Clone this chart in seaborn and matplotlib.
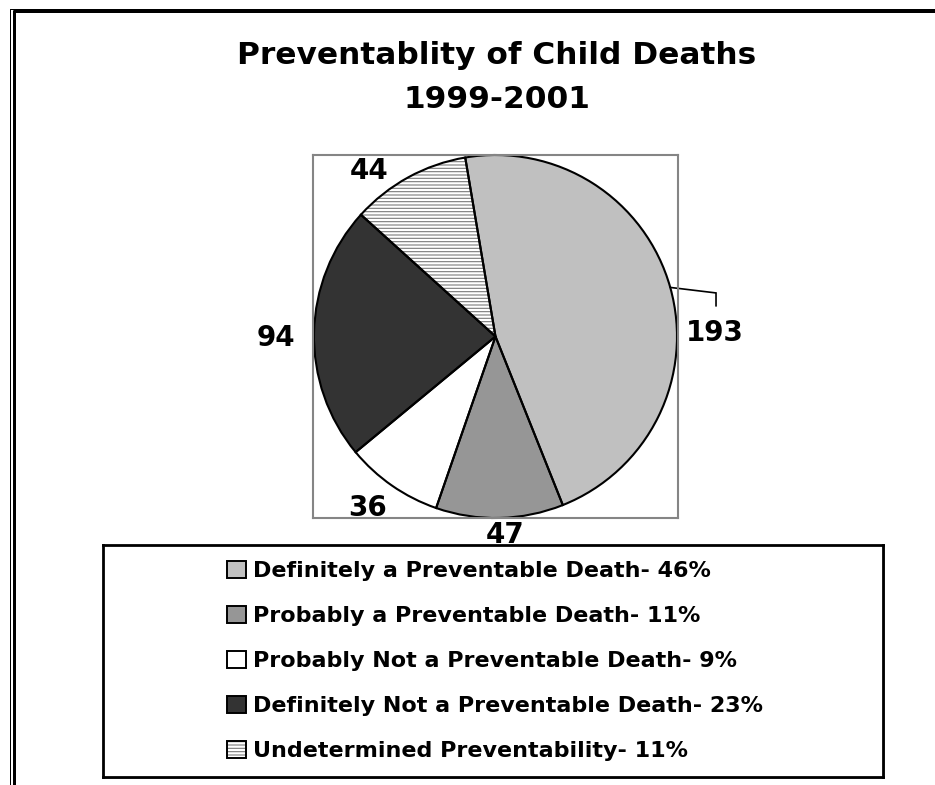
import matplotlib
matplotlib.use("Agg")
import numpy as np
import matplotlib.pyplot as plt
import seaborn as sns
from matplotlib.patches import Patch, Rectangle
from matplotlib.lines import Line2D
from matplotlib.legend_handler import HandlerTuple

# ---- data ----
categories = [
    "Definitely a Preventable Death",
    "Probably a Preventable Death",
    "Probably Not a Preventable Death",
    "Definitely Not a Preventable Death",
    "Undetermined Preventability",
]
counts = [193, 47, 36, 94, 44]
percent_labels = ["46%", "11%", "9%", "23%", "11%"]
title_lines = ["Preventablity of Child Deaths", "1999-2001"]

# ---- style ----
colors = ["#C0C0C0", "#969696", "#FFFFFF", "#333333", "#FFFFFF"]
hatches = [None, None, None, None, "-----"]

sns.set_theme(style="white")
plt.rcParams["font.family"] = ["DejaVu Sans"]
plt.rcParams["font.weight"] = "bold"
plt.rcParams["text.color"] = "black"
plt.rcParams["hatch.linewidth"] = 0.8

W, H = 935, 785
fig = plt.figure(figsize=(W / 100, H / 100), dpi=100)
fig.patch.set_facecolor("white")


def fx(x):
    return x / W


def fy(y):
    return 1 - y / H


# double page frame (top and left)
px = 0.72
fig.add_artist(Line2D([fx(10), 1], [fy(8.5), fy(8.5)], color="black", lw=1 * px))
fig.add_artist(Line2D([fx(13.5), 1], [fy(11), fy(11)], color="black", lw=3 * px))
fig.add_artist(Line2D([fx(10), fx(10)], [fy(8.5), 0], color="black", lw=1 * px))
fig.add_artist(Line2D([fx(13.5), fx(13.5)], [fy(11), 0], color="black", lw=3 * px))

# two-line title
fig.text(fx(496.5), fy(63.5), title_lines[0], ha="center", va="baseline",
         fontsize=22.5, fontweight="bold", color="black")
fig.text(fx(496.5), fy(107.5), title_lines[1], ha="center", va="baseline",
         fontsize=22.5, fontweight="bold", color="black")

# ---- pie ----
left, right, top, bottom = 313, 678, 155, 518
ax = fig.add_axes([fx(left), fy(bottom), fx(right - left), (bottom - top) / H])
start = 99.6

wedges, _ = ax.pie(counts, colors=colors, startangle=start, counterclock=False,
                   radius=1, frame=True, wedgeprops=dict(linewidth=0))
for w, h in zip(wedges, hatches):
    if h:
        w.set_hatch(h)
        w.set_edgecolor("#7a7a7a")
        w.set_linewidth(0)

outlines, _ = ax.pie(counts, startangle=start, counterclock=False, radius=1,
                     frame=True,
                     wedgeprops=dict(fill=False, edgecolor="black", linewidth=1.5))

half_w = (right - left) / (bottom - top)
ax.set_aspect("auto")
ax.set_xlim(-half_w, half_w)
ax.set_ylim(-1, 1)
ax.set_xticks([])
ax.set_yticks([])
for s in ax.spines.values():
    s.set_visible(True)
    s.set_color("#858585")
    s.set_linewidth(1.5)

# value labels: (radius, angle shift in degrees) from each slice's mid-angle
label_place = [(1.207, -14.27), (1.084, 1.41), (1.170, -2.3), (1.209, 1.13), (1.155, 8.2)]
label_size = 20
half_cap = 0.729 * label_size / 72 * 100 / 2 / ((bottom - top) / 2)
for i, (w, n) in enumerate(zip(outlines, counts)):
    mid = (w.theta1 + w.theta2) / 2
    r, dth = label_place[i]
    a = np.deg2rad(mid + dth)
    tx, ty = r * np.cos(a), r * np.sin(a)
    if i == 0:
        em = np.deg2rad(mid)
        ax.plot([np.cos(em), 1.215, 1.215], [np.sin(em), 0.24, 0.168],
                color="black", lw=1.2, clip_on=False, solid_joinstyle="miter")
    ax.text(tx, ty - half_cap, str(n), ha="center", va="baseline",
            fontsize=label_size, fontweight="bold", color="black")

# ---- legend box ----
lx0, lx1, ly0, ly1 = 103, 883, 545, 777
fig.add_artist(Rectangle((fx(lx0 + 2), fy(ly1 + 2)), (lx1 - lx0) / W, (ly1 - ly0) / H,
                         transform=fig.transFigure, facecolor="#9a9a9a",
                         edgecolor="none", zorder=-1))
lax = fig.add_axes([fx(lx0), fy(ly1), (lx1 - lx0) / W, (ly1 - ly0) / H])
lax.set_xticks([])
lax.set_yticks([])
lax.set_facecolor("white")
for s in lax.spines.values():
    s.set_visible(True)
    s.set_color("black")
    s.set_linewidth(2)

handles = []
for c, h in zip(colors, hatches):
    fillp = Patch(facecolor=c, edgecolor="#7a7a7a" if h else c,
                  hatch=h, linewidth=0)
    edgep = Patch(facecolor="none", edgecolor="black", linewidth=1.4)
    handles.append((fillp, edgep))
labels = [f"{c}- {p}" for c, p in zip(categories, percent_labels)]
lax.legend(handles, labels, loc="center", bbox_to_anchor=(0.503, 0.5),
           frameon=False,
           handler_map={tuple: HandlerTuple(ndivide=1, pad=0)},
           prop=dict(size=16.0, weight="bold"), labelcolor="black",
           handlelength=0.82, handleheight=0.82,
           handletextpad=0.35, labelspacing=1.11, borderpad=0)

fig.savefig("out.png", dpi=100, facecolor="white")
